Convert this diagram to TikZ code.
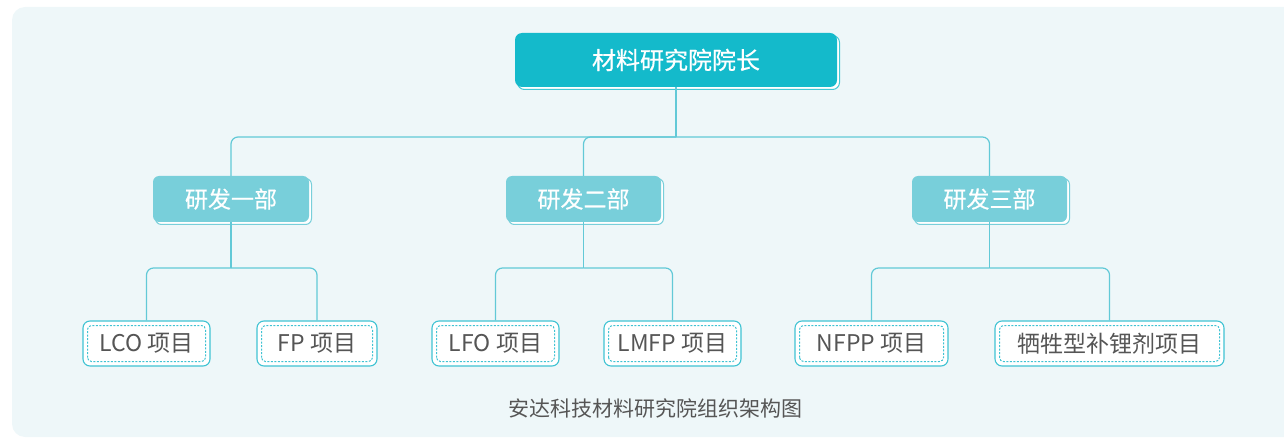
\documentclass[tikz,border=0pt]{standalone}
\usepackage{fontspec}
\setmainfont{Noto Sans CJK SC}
\newfontfamily\medfont{Noto Sans CJK SC}[FakeBold=0.6]
\usetikzlibrary{calc}
\definecolor{panelbg}{HTML}{EEF7F9}
\definecolor{topfill}{HTML}{14BACB}
\definecolor{midfill}{HTML}{78CFDA}
\definecolor{linec}{HTML}{62C9D7}
\definecolor{leafline}{HTML}{3FC3D3}
\definecolor{txtgray}{HTML}{555555}
\tikzset{
  x=1pt, y=-1pt,
  conn/.style={draw=linec, line width=1.2pt, rounded corners=7pt},
  topbox/.style={rectangle, rounded corners=7pt, fill=topfill, text=white,
    font=\medfont\fontsize{24}{27}\selectfont, minimum width=322pt, minimum height=54pt,
    preaction={draw=topfill!80, line width=1pt, fill=white, rounded corners=7pt, transform canvas={shift={(2.5pt,-2.5pt)}}}},
  midbox/.style={rectangle, rounded corners=6pt, fill=midfill, text=white,
    font=\medfont\fontsize{23}{26}\selectfont, minimum height=46pt,
    preaction={draw=midfill, line width=1pt, fill=white, rounded corners=6pt, transform canvas={shift={(2.5pt,-2.5pt)}}}},
  leaf/.style={rectangle, rounded corners=7pt, draw=leafline, line width=1.1pt, fill=white,
    text=txtgray, font=\fontsize{23}{26}\selectfont, minimum height=45pt,
    path picture={\draw[leafline, dashed, dash pattern=on 2pt off 1.5pt, line width=1pt, rounded corners=4pt]
      ($(path picture bounding box.south west)+(4.5pt,4.5pt)$) rectangle ($(path picture bounding box.north east)+(-4.5pt,-4.5pt)$);}},
  caption/.style={text=txtgray, font=\fontsize{21}{24}\selectfont}
}
\begin{document}
\begin{tikzpicture}
\useasboundingbox (0,0) rectangle (1284,438);
\clip (0,0) rectangle (1284,438);
\fill[panelbg, rounded corners=13pt] (12,7) rectangle (1310,437);

\node[topbox] (top) at (676,60) {材料研究院院长};
\node[midbox, minimum width=156pt] (d1) at (231,199) {研发一部};
\node[midbox, minimum width=155pt] (d2) at (583.5,199) {研发二部};
\node[midbox, minimum width=155pt] (d3) at (989.5,199) {研发三部};

\node[leaf, minimum width=127pt] (p1) at (146.5,343.5) {LCO 项目};
\node[leaf, minimum width=120pt] (p2) at (317,343.5) {FP 项目};
\node[leaf, minimum width=127pt] (p3) at (495.5,343.5) {LFO 项目};
\node[leaf, minimum width=137pt] (p4) at (672.5,343.5) {LMFP 项目};
\node[leaf, minimum width=153pt] (p5) at (871.5,343.5) {NFPP 项目};
\node[leaf, minimum width=229pt] (p6) at (1109.5,343.5) {牺牲型补锂剂项目};

\coordinate (b0) at (676,137);
\coordinate (b1) at (231,268);
\coordinate (b2) at (583.5,268);
\coordinate (b3) at (989.5,268);

\draw[conn] (top.south) -- (b0);
\draw[conn] (b0) -| (d1.north);
\draw[conn] (b0) -| (d3.north);
\draw[conn] (b0) -| (d2.north);

\draw[conn] (d1.south) -- (b1);
\draw[conn] (b1) -| (p1.north);
\draw[conn] (b1) -| (p2.north);
\draw[conn] (d2.south) -- (b2);
\draw[conn] (b2) -| (p3.north);
\draw[conn] (b2) -| (p4.north);
\draw[conn] (d3.south) -- (b3);
\draw[conn] (b3) -| (p5.north);
\draw[conn] (b3) -| (p6.north);

\node[caption] (cap) at (655,408) {安达科技材料研究院组织架构图};
\end{tikzpicture}
\end{document}
